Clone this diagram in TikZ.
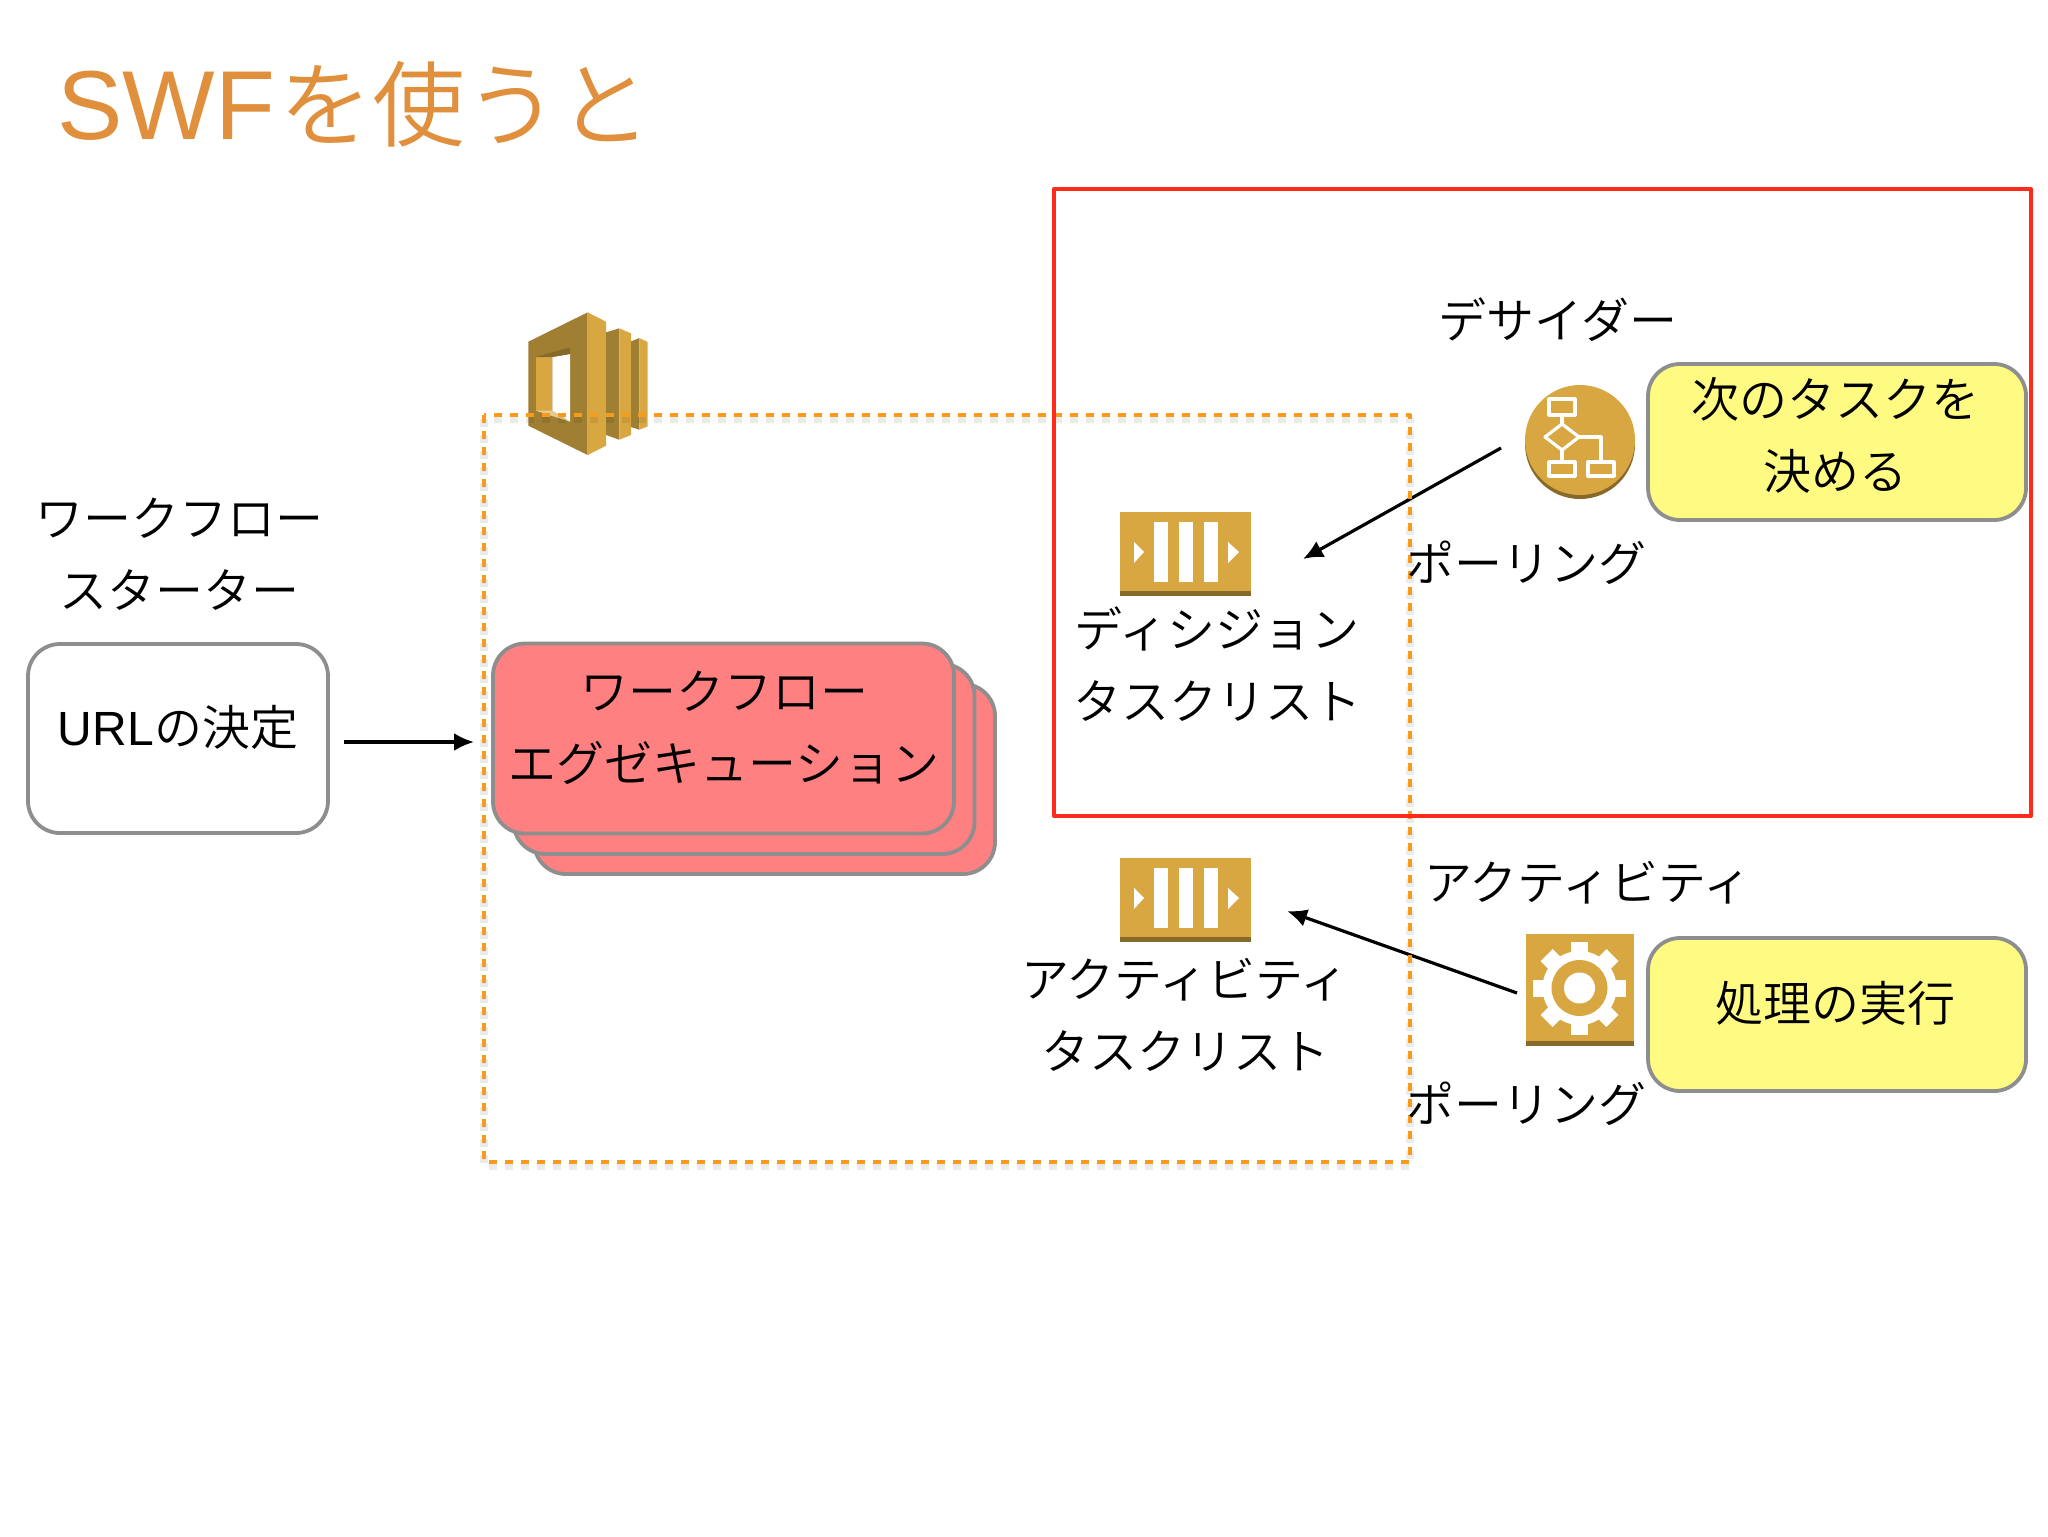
\documentclass[tikz,border=0pt]{standalone}
\usepackage{fontspec}
\usetikzlibrary{arrows.meta}
\setmainfont{Noto Sans CJK JP}[UprightFont=* DemiLight]
\newfontfamily\latinface{Liberation Sans}
\definecolor{awsgold}{HTML}{D9A741}
\definecolor{awsdark}{HTML}{876929}
\definecolor{awsmid}{HTML}{A07E32}
\definecolor{titleorange}{HTML}{E08F3C}
\definecolor{dashorange}{HTML}{F79A1E}
\definecolor{boxgray}{HTML}{8E8E8E}
\definecolor{execred}{HTML}{FF8080}
\definecolor{taskyellow}{HTML}{FFFB82}
\definecolor{frred}{HTML}{FF2A1A}
\tikzset{
  jplabel/.style={font=\fontsize{24pt}{36pt}\selectfont,align=center,inner sep=0pt},
  flowbox/.style={draw=boxgray,line width=1.9pt,rounded corners=16pt,inner sep=0pt,align=center,
    font=\fontsize{24pt}{36pt}\selectfont,minimum width=#1},
  iconline/.style={draw=white,line width=1.6pt},
  pollarrow/.style={-{Latex[length=10pt,width=9pt]},line width=1.6pt},
}
\begin{document}
\begin{tikzpicture}[x=0.5pt,y=-0.5pt,line join=round]
\useasboundingbox (0,0) rectangle (2048,1536);

\node[anchor=west,text=titleorange,inner sep=0pt,font=\fontsize{46.5pt}{46pt}\selectfont] (title) at (57,104) {{\latinface\fontsize{49pt}{46pt}\selectfont SWF}\hspace{2pt}を使うと};

% SWF icon
\begin{scope}[shift={(480,280)},x=0.1667pt,y=-0.1667pt]
  \fill[awsmid] (145,185)--(323,97)--(323,525)--(145,437)--cycle;
  \fill[awsgold] (323,97)--(378,125)--(378,497)--(323,525)--cycle;
  \fill[white] (217,231)--(270,222)--(270,425)--(217,392)--cycle;
  \fill[awsgold] (167,231)--(217,231)--(217,392)--(167,392)--cycle;
  \fill[awsdark] (167,231)--(270,202)--(270,222)--(217,231)--cycle;
  \fill[awsgold!60] (167,392)--(217,392)--(270,425)--cycle;
  \fill[awsmid] (378,157)--(418,145)--(418,479)--(378,465)--cycle;
  \fill[awsgold] (418,145)--(453,160)--(453,465)--(418,479)--cycle;
  \fill[awsmid] (453,184)--(478,174)--(478,449)--(453,441)--cycle;
  \fill[awsgold] (478,174)--(503,186)--(503,439)--(478,449)--cycle;
\end{scope}

% queue icons
\foreach \qy in {512,858}{
  \fill[awsdark] (1120,\qy+70) rectangle (1251,\qy+84);
  \fill[awsgold] (1120,\qy) rectangle (1251,\qy+79);
  \foreach \qx in {1154,1179,1204}
    \fill[white] (\qx,\qy+10) rectangle (\qx+14,\qy+70);
  \fill[white] (1134,\qy+30)--(1144,\qy+40)--(1134,\qy+51)--cycle;
  \fill[white] (1228,\qy+30)--(1239,\qy+40)--(1228,\qy+51)--cycle;
}

% decider icon
\fill[awsdark] (1580,444) ellipse (55 and 55);
\fill[awsgold] (1580,440) ellipse (55 and 55);
\draw[iconline] (1549,399) rectangle (1575,415);
\draw[iconline] (1562,424)--(1579,437)--(1562,450)--(1545,437)--cycle;
\draw[iconline] (1549,462) rectangle (1575,476);
\draw[iconline] (1588,462) rectangle (1614,476);
\draw[iconline] (1562,415)--(1562,424);
\draw[iconline] (1562,450)--(1562,462);
\draw[iconline] (1579,437)--(1601,437)--(1601,462);

% activity icon
\fill[awsdark] (1526,1030) rectangle (1634,1046);
\fill[awsgold] (1526,934) rectangle (1634,1041);
\fill[white] (1579.5,988) circle (37);
\foreach \gangle in {0,45,...,315}
  \fill[white,rotate around={\gangle:(1579.5,988)}] (1571,988-46.5) rectangle (1588,988-30);
\fill[awsgold] (1579.5,988) circle (28);
\fill[white] (1579.5,988) circle (15.5);

% polling arrows
\coordinate (deciderout) at (1501,448);
\coordinate (dqueuein) at (1303,559);
\coordinate (activityout) at (1517,993);
\coordinate (aqueuein) at (1287,911);
\coordinate (urlout) at (344,742);
\coordinate (execin) at (474,742);
\draw[pollarrow] (deciderout) -- (dqueuein);
\draw[pollarrow] (activityout) -- (aqueuein);
\draw[pollarrow] (urlout) -- (execin);

% dashed frame
\draw[black,opacity=0.08,line width=4pt,dash pattern=on 4pt off 4pt] (484,419) rectangle (1410,1166);
\draw[dashorange,line width=2pt,dash pattern=on 4pt off 4pt] (484,415) rectangle (1410,1162);
\draw[frred,line width=2pt] (1054,189) rectangle (2031,816);

% boxes
\node[flowbox=461pt/2,fill=execred,minimum height=190pt/2] (execback) at (764.5,779) {};
\node[flowbox=461pt/2,fill=execred,minimum height=190pt/2] (execmid) at (744,759) {};
\node[flowbox=461pt/2,fill=execred,minimum height=190pt/2] (execfront) at (723.5,738.5) {};
\node[jplabel] (exectext) at (724,727.5) {ワークフロー\\エグゼキューション};
\node[flowbox=150pt,fill=white,minimum height=94.5pt] (urlbox) at (178,738.5) {};
\node[jplabel] (urltext) at (178,727) {{\latinface URL}の決定};
\node[flowbox=189pt,fill=taskyellow,minimum height=78pt] (nexttask) at (1837,442) {};
\node[jplabel] (nexttext) at (1835,435) {次のタスクを\\決める};
\node[flowbox=189pt,fill=taskyellow,minimum height=76.5pt] (runtask) at (1837,1014.5) {};
\node[jplabel] (runtext) at (1835,1003) {処理の実行};

% labels
\node[jplabel] (starter) at (179,554) {ワークフロー\\スターター};
\node[jplabel] (decider) at (1558,320) {デサイダー};
\node[jplabel] (pollone) at (1526,563) {ポーリング};
\node[jplabel] (dqueue) at (1217,664) {ディシジョン\\タスクリスト};
\node[jplabel] (activity) at (1588,883) {アクティビティ};
\node[jplabel] (aqueue) at (1185,1015) {アクティビティ\\タスクリスト};
\node[jplabel] (polltwo) at (1526,1104) {ポーリング};
\end{tikzpicture}
\end{document}
